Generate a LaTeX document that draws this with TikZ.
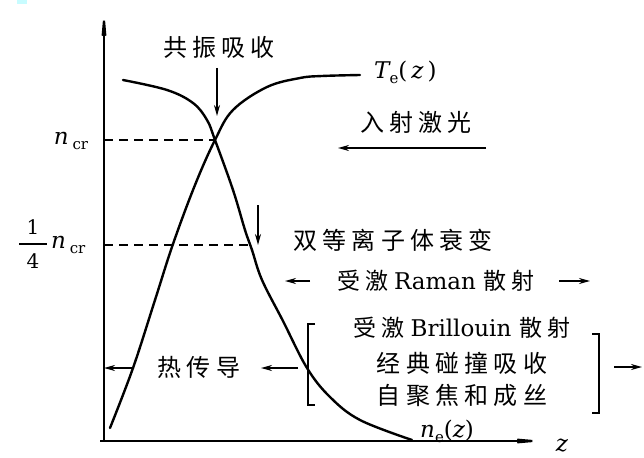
\documentclass[tikz,border=0pt]{standalone}
\usepackage{fontspec}
\setmainfont{DejaVu Serif}
\usetikzlibrary{arrows.meta,positioning}
\newfontfamily\cjk[LetterSpace=22]{Noto Sans CJK SC}
\newcommand{\lowsub}[1]{\raisebox{-5pt}{\fontsize{15}{15}\selectfont\upshape #1}}
\definecolor{patchcyan}{RGB}{200,252,255}
\tikzset{
  lbl/.style={inner sep=0pt,font=\fontsize{23}{27}\selectfont},
  var/.style={inner sep=0pt,font=\fontsize{23}{27}\selectfont\itshape},
  arr/.style={line width=1.6pt,-{Stealth[length=11pt,width=6pt]}},
  curve/.style={line width=2.4pt,line cap=round},
  guide/.style={line width=1.2pt,dash pattern=on 9pt off 6pt},
  brk/.style={line width=1.6pt}
}
\begin{document}
\begin{tikzpicture}[x=1pt,y=-1pt]
    \useasboundingbox (0,0) rectangle (644,457);
    \fill[patchcyan] (17,0) rectangle (27,4);

    % axes
    \coordinate (o) at (104,441);
    \coordinate (ytop) at (104,8);
    \coordinate (xstart) at (100,441);
    \coordinate (xend) at (545,441);
    \draw[line width=2.2pt,-{Stealth[length=40pt,width=7pt]}] (o) -- (ytop);
    \draw[line width=2.2pt,-{Stealth[length=40pt,width=7pt]}] (xstart) -- (xend);
    \node[var] (zlab) at (562,446) {z};

    % electron density: decreasing
    \draw[curve] plot[smooth,tension=0.6] coordinates {(123,80) (167,90) (193,103) (207,120)
      (215,140) (233,190) (245,230) (252,250) (262,280) (283,321) (307,368)
      (330,397) (360,420) (412,440)};
    \node[var,anchor=west] (nelab) at (420,431) {n\lowsub{e}\upshape(\itshape z\upshape)};

    % electron temperature: increasing
    \draw[curve] plot[smooth,tension=0.6] coordinates {(110,428) (133,368) (155,300)
      (173,244) (195,185) (215,140) (233,110) (267,87) (300,78) (322,76) (360,75)};
    \node[var,anchor=west] (telab) at (374,72) {T\lowsub{e}\upshape(\hspace{4pt}\itshape z\upshape\hspace{4pt})};

    % critical densities
    \coordinate (cross) at (215,140);
    \coordinate (qcross) at (251,245);
    \node[var] (ncr) at (71,141) {n\,\lowsub{cr}};
    \node[var,anchor=west] (ncrq) at (51,245) {n\,\lowsub{cr}};
    \node[lbl,font=\fontsize{20}{24}\selectfont] (one) at (33,227) {1};
    \node[lbl,font=\fontsize{20}{24}\selectfont] (four) at (33,261) {4};
    \draw[line width=1.3pt] (19,244) -- (47,244);
    \draw[guide] (104,140) -- (cross);
    \draw[guide] (104,245) -- (qcross);

    % resonance absorption
    \node[lbl,font=\fontsize{24}{28}\selectfont] (res) at (219,47) {\cjk 共振吸收};
    \draw[arr] (217,68) -- (217,116);

    % incident laser
    \node[lbl,font=\fontsize{24}{28}\selectfont] (laser) at (416,122) {\cjk 入射激光};
    \coordinate (lasertail) at (486,148);
    \coordinate (laserhead) at (338,148);
    \draw[arr] (lasertail) -- (laserhead);

    % two-plasmon decay
    \node[lbl,font=\fontsize{24}{28}\selectfont] (decay) at (393,240) {\cjk 双等离子体衰变};
    \draw[arr] (258,205) -- (258,245);

    % Raman
    \node[lbl] (raman) at (436,281) {{\cjk 受激}\hspace{6pt}Raman\hspace{8pt}{\cjk 散射}};
    \coordinate (ramanl) at (310,281);
    \coordinate (ramanr) at (559,281);
    \draw[arr] (ramanl) -- (285,281);
    \draw[arr] (ramanr) -- (590,281);

    % Brillouin group
    \node[lbl] (brill) at (462,328) {{\cjk 受激}\hspace{6pt}Brillouin\hspace{8pt}{\cjk 散射}};
    \node[lbl,font=\fontsize{24}{28}\selectfont] (coll) at (462,363) {\cjk 经典碰撞吸收};
    \node[lbl,font=\fontsize{24}{28}\selectfont] (self) at (462,395) {\cjk 自聚焦和成丝};
    \draw[brk] (315,324) -- (308,324) -- (308,405) -- (315,405);
    \draw[brk] (592,334) -- (599,334) -- (599,413) -- (592,413);
    \draw[arr] (614,367) -- (642,367);

    % heat conduction
    \node[lbl,font=\fontsize{24}{28}\selectfont] (heat) at (199,367) {\cjk 热传导};
    \draw[arr] (134,368) -- (104,368);
    \draw[arr] (298,368) -- (261,368);
\end{tikzpicture}
\end{document}
